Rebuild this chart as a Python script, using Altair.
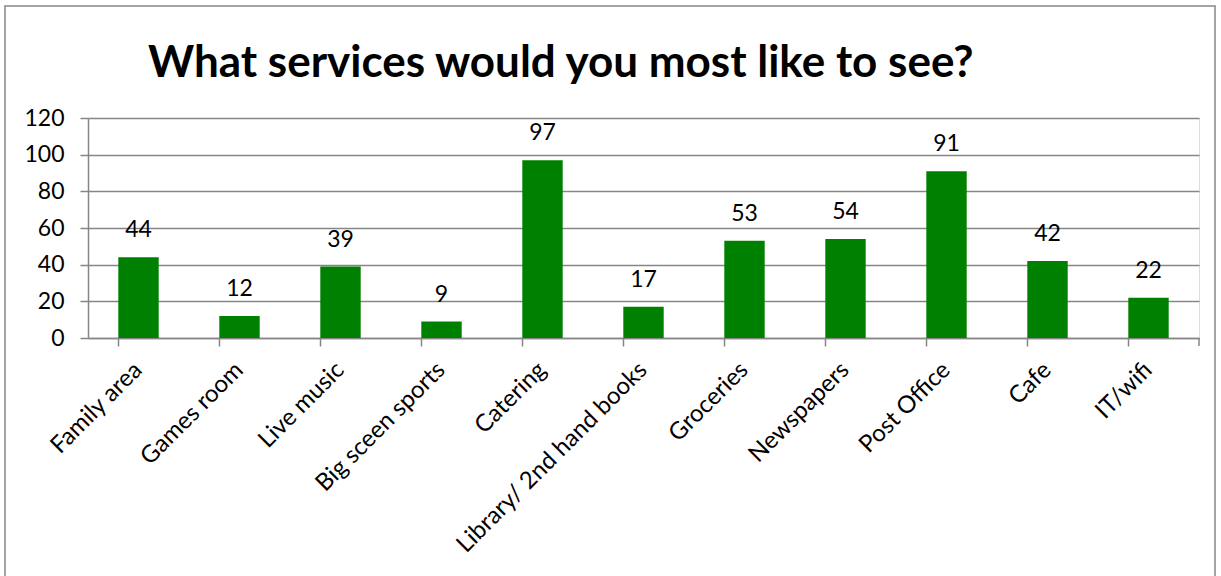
import altair as alt
import pandas as pd

categories = ["Family area", "Games room", "Live music", "Big sceen sports", "Catering",
              "Library/ 2nd hand books", "Groceries", "Newspapers", "Post Office", "Cafe", "IT/wifi"]
values = [44, 12, 39, 9, 97, 17, 53, 54, 91, 42, 22]
y_ticks = [0, 20, 40, 60, 80, 100, 120]
title_text = "What services would you most like to see?"

df = pd.DataFrame({"service": categories, "count": values})

W, H = 1111, 220
FONT = "Lato"
GRAY = "#868686"

x_enc = alt.X("service:N", sort=categories, title=None,
              scale=alt.Scale(paddingInner=0.6, paddingOuter=0.3),
              axis=alt.Axis(labelAngle=-45, labelAlign="right", labelBaseline="middle",
                            labelFont=FONT, labelFontSize=24, labelColor="black",
                            labelPadding=20, labelLimit=500, tickSize=8, tickColor=GRAY, tickWidth=1.5,
                            domainColor=GRAY, domainWidth=1.5, bandPosition=0,
                            labelOverlap=False, grid=False))
y_enc = alt.Y("count:Q", title=None,
              scale=alt.Scale(domain=[0, 120], nice=False),
              axis=alt.Axis(values=y_ticks, tickCount=7, labelOverlap=False,
                            labelFont=FONT, labelFontSize=23, labelColor="black",
                            labelPadding=16, tickSize=8, tickColor=GRAY, tickWidth=1.5,
                            domainColor=GRAY, domainWidth=1.5,
                            grid=True, gridColor=GRAY, gridWidth=1.5))

bars = alt.Chart(df).mark_bar(color="#008000").encode(x=x_enc, y=y_enc)
text = alt.Chart(df).mark_text(font=FONT, fontSize=23, baseline="alphabetic", dy=-20,
                               color="black").encode(
    x=alt.X("service:N", sort=categories), y="count:Q", text="count:Q")

one = pd.DataFrame({"a": [0]})
last_tick = alt.Chart(one).mark_rule(color=GRAY, strokeWidth=1.5).encode(
    x=alt.value(W), y=alt.value(H), y2=alt.value(H + 8))
frame = alt.Chart(one).mark_rect(fill=None, stroke=GRAY, strokeWidth=1.5).encode(
    x=alt.value(-83), x2=alt.value(1215 - 88), y=alt.value(-112), y2=alt.value(600))
title = alt.Chart(one).mark_text(text=title_text, font=FONT, fontSize=44, fontWeight="bold",
                                 color="black", align="left", baseline="alphabetic").encode(
    x=alt.value(60), y=alt.value(-41))

chart = alt.layer(frame, bars, text, last_tick, title).properties(
    width=W, height=H,
    autosize=alt.AutoSizeParams(type="none"),
    padding={"left": 88, "top": 118, "right": 22, "bottom": 238},
).configure_view(stroke=None).configure(background="white")

chart.save("out.html", embed_options={"renderer": "svg", "actions": False})
